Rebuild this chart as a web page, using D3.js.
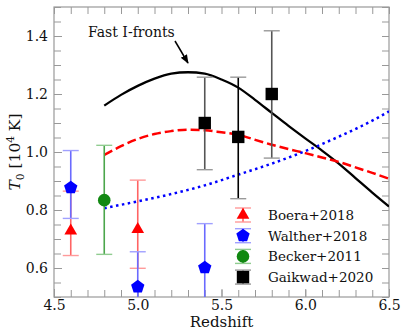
<!DOCTYPE html>
<html>
<head>
<meta charset="utf-8">
<script src="https://cdn.jsdelivr.net/npm/d3@7"></script>
<style>
  body { margin: 0; background: #fff; }
  text { font-family: "DejaVu Serif", serif; }
</style>
</head>
<body>
<div id="chart"></div>
<script>
// model curves
const curveZ = [4.8, 4.9, 5.0, 5.1, 5.2, 5.3, 5.4, 5.5, 5.6, 5.7, 5.8, 5.9, 6.0, 6.1, 6.2, 6.3, 6.4, 6.5];
const fastIFront = [1.16, 1.197, 1.228, 1.253, 1.27, 1.275, 1.27, 1.25, 1.222, 1.18, 1.135, 1.09, 1.047, 1.005, 0.96, 0.91, 0.86, 0.812];
const redDashed = [0.99, 1.02, 1.045, 1.062, 1.072, 1.077, 1.075, 1.068, 1.06, 1.042, 1.025, 1.01, 0.996, 0.981, 0.966, 0.947, 0.928, 0.908];
const blueZ = [4.8, 5.0, 5.2, 5.4, 5.6, 5.8, 6.0, 6.2, 6.4, 6.5];
const blueDotted = [0.806, 0.83, 0.855, 0.885, 0.922, 0.96, 1.003, 1.053, 1.108, 1.14];

// measurements: z, T0, lower, upper
const boera = [[4.6, 0.728, 0.643, 0.865], [5.0, 0.733, 0.599, 0.903]];
const walther = [[4.6, 0.877, 0.771, 1.005], [5.0, 0.535, 0.40, 0.656], [5.4, 0.601, 0.45, 0.753]];
const becker = [[4.8, 0.834, 0.647, 1.023]];
const gaikwad = [[5.4, 1.10, 0.939, 1.258], [5.6, 1.052, 0.839, 1.258], [5.8, 1.20, 0.979, 1.418]];

const xTicks = [4.5, 5.0, 5.5, 6.0, 6.5];
const yTicks = [0.6, 0.8, 1.0, 1.2, 1.4];
const legendNames = ["Boera+2018", "Walther+2018", "Becker+2011", "Gaikwad+2020"];

const W = 402, H = 330;
const m = {left: 54, right: 13, top: 7, bottom: 33};
const x = d3.scaleLinear().domain([4.5, 6.5]).range([m.left, W - m.right]);
const y = d3.scaleLinear().domain([0.5, 1.5]).range([H - m.bottom, m.top]);

const svg = d3.select("#chart").append("svg")
    .attr("width", W).attr("height", H);

svg.append("defs").append("clipPath").attr("id", "clip")
    .append("rect")
    .attr("x", m.left).attr("y", m.top)
    .attr("width", x(6.5) - m.left).attr("height", y(0.5) - m.top);

// axes with inward ticks on all four sides
const axisColor = "#999";
function styleAxis(g) {
    g.select(".domain").remove();
    g.selectAll("line").attr("stroke", axisColor);
    g.selectAll("text").attr("font-size", 14).attr("fill", "#111");
}
const xMinor = d3.range(45, 66).map(v => v / 10);
const yMinor = d3.range(10, 31).map(v => v / 20);

svg.append("g").attr("transform", `translate(0,${y(0.5)})`)
    .call(d3.axisBottom(x).tickValues(xMinor).tickSize(-7).tickFormat(""))
    .call(styleAxis);
svg.append("g").attr("transform", `translate(0,${y(0.5)})`)
    .call(d3.axisBottom(x).tickValues(xTicks).tickSize(-8).tickPadding(3).tickFormat(d3.format(".1f")))
    .call(styleAxis);
svg.append("g").attr("transform", `translate(0,${m.top})`)
    .call(d3.axisTop(x).tickValues(xMinor).tickSize(-7).tickFormat(""))
    .call(styleAxis);
svg.append("g").attr("transform", `translate(${m.left},0)`)
    .call(d3.axisLeft(y).tickValues(yMinor).tickSize(-7).tickFormat(""))
    .call(styleAxis);
svg.append("g").attr("transform", `translate(${m.left},0)`)
    .call(d3.axisLeft(y).tickValues(yTicks).tickSize(-8).tickPadding(6).tickFormat(d3.format(".1f")))
    .call(styleAxis);
svg.append("g").attr("transform", `translate(${x(6.5)},0)`)
    .call(d3.axisRight(y).tickValues(yMinor).tickSize(-7).tickFormat(""))
    .call(styleAxis);

svg.append("rect")
    .attr("x", m.left).attr("y", m.top)
    .attr("width", x(6.5) - m.left).attr("height", y(0.5) - m.top)
    .attr("fill", "none").attr("stroke", axisColor).attr("stroke-width", 1.2);

const plot = svg.append("g").attr("clip-path", "url(#clip)");
const line = d3.line().curve(d3.curveMonotoneX);

plot.append("path")
    .attr("d", line(curveZ.map((z, i) => [x(z), y(fastIFront[i])])))
    .attr("fill", "none").attr("stroke", "#000").attr("stroke-width", 2.3);
plot.append("path")
    .attr("d", line(curveZ.map((z, i) => [x(z), y(redDashed[i])])))
    .attr("fill", "none").attr("stroke", "#f00").attr("stroke-width", 2.5)
    .attr("stroke-dasharray", "9,4");
plot.append("path")
    .attr("d", line(blueZ.map((z, i) => [x(z), y(blueDotted[i])])))
    .attr("fill", "none").attr("stroke", "#00f").attr("stroke-width", 2.5)
    .attr("stroke-dasharray", "2.5,3.5");

// marker shapes
function pentagon(r) {
    return d3.range(5).map(i => {
        const a = -Math.PI / 2 + i * 2 * Math.PI / 5;
        return [r * Math.cos(a), r * Math.sin(a)];
    });
}
const series = [
    {data: boera, color: "#f00", bar: "#ff6464", cap: "#ff9a9a", shape: "tri"},
    {data: walther, color: "#00f", bar: "#6a6aff", cap: "#a0a0ff", shape: "pent"},
    {data: becker, color: "#118811", bar: "#4ca64c", cap: "#90cc90", shape: "circ"},
    {data: gaikwad, color: "#000", bar: ["#555", "#000", "#555"], cap: "#999", shape: "sq"}
];

function drawMarker(g, shape, color) {
    if (shape === "tri") {
        g.append("path").attr("d", d3.symbol(d3.symbolTriangle, 70)()).attr("fill", color);
    } else if (shape === "pent") {
        g.append("polygon").attr("points", pentagon(7).join(" ")).attr("fill", color);
    } else if (shape === "circ") {
        g.append("circle").attr("r", 6.3).attr("fill", color);
    } else {
        g.append("rect").attr("x", -6.2).attr("y", -6.2).attr("width", 12.4).attr("height", 12.4).attr("fill", color);
    }
}

series.forEach(s => {
    s.data.forEach((d, i) => {
        const cx = x(d[0]);
        const barColor = Array.isArray(s.bar) ? s.bar[i] : s.bar;
        plot.append("line")
            .attr("x1", cx).attr("x2", cx).attr("y1", y(d[2])).attr("y2", y(d[3]))
            .attr("stroke", barColor).attr("stroke-width", 1.6);
        [d[2], d[3]].forEach(v => {
            plot.append("line")
                .attr("x1", cx - 8).attr("x2", cx + 8).attr("y1", y(v)).attr("y2", y(v))
                .attr("stroke", s.cap).attr("stroke-width", 1.4);
        });
    });
    s.data.forEach(d => {
        const g = plot.append("g").attr("transform", `translate(${x(d[0])},${y(d[1])})`);
        drawMarker(g, s.shape, s.color);
    });
});

// legend
const legend = svg.append("g").attr("transform", "translate(243,215)");
series.forEach((s, i) => {
    const g = legend.append("g").attr("transform", `translate(0,${i * 20.7})`);
    const barColor = Array.isArray(s.bar) ? s.bar[0] : s.bar;
    g.append("line").attr("x1", 0).attr("x2", 0).attr("y1", -7).attr("y2", 7)
        .attr("stroke", barColor).attr("stroke-width", 1.6);
    [-7, 7].forEach(v => g.append("line").attr("x1", -8).attr("x2", 8).attr("y1", v).attr("y2", v)
        .attr("stroke", s.cap).attr("stroke-width", 1.4));
    drawMarker(g, s.shape, s.color);
    g.append("text").attr("x", 25).attr("y", 5).attr("font-size", 13.5)
        .attr("fill", "#111").text(legendNames[i]);
});

// annotation
svg.append("defs").append("marker")
    .attr("id", "arrow").attr("viewBox", "0 0 10 10")
    .attr("refX", 9).attr("refY", 5)
    .attr("markerWidth", 6).attr("markerHeight", 6)
    .attr("orient", "auto")
    .append("path").attr("d", "M0,1 L10,5 L0,9 Z").attr("fill", "#000");
svg.append("text").attr("x", 88).attr("y", 37).attr("font-size", 14)
    .attr("fill", "#111").text("Fast I-fronts");
svg.append("line")
    .attr("x1", 175).attr("y1", 41).attr("x2", 188).attr("y2", 63)
    .attr("stroke", "#000").attr("stroke-width", 1.5)
    .attr("marker-end", "url(#arrow)");

// axis labels
svg.append("text").attr("x", (m.left + x(6.5)) / 2).attr("y", 327)
    .attr("text-anchor", "middle").attr("font-size", 15).attr("fill", "#111").text("Redshift");

const yl = svg.append("text")
    .attr("transform", "translate(20,152) rotate(-90)")
    .attr("text-anchor", "middle").attr("font-size", 15.5).attr("fill", "#111");
yl.append("tspan").attr("font-style", "italic").text("T");
yl.append("tspan").attr("font-size", 10.5).attr("dy", 4).text("0");
yl.append("tspan").attr("dy", -4).text(" [10");
yl.append("tspan").attr("font-size", 10.5).attr("dy", -6).text("4");
yl.append("tspan").attr("dy", 6).text(" K]");
</script>
</body>
</html>
